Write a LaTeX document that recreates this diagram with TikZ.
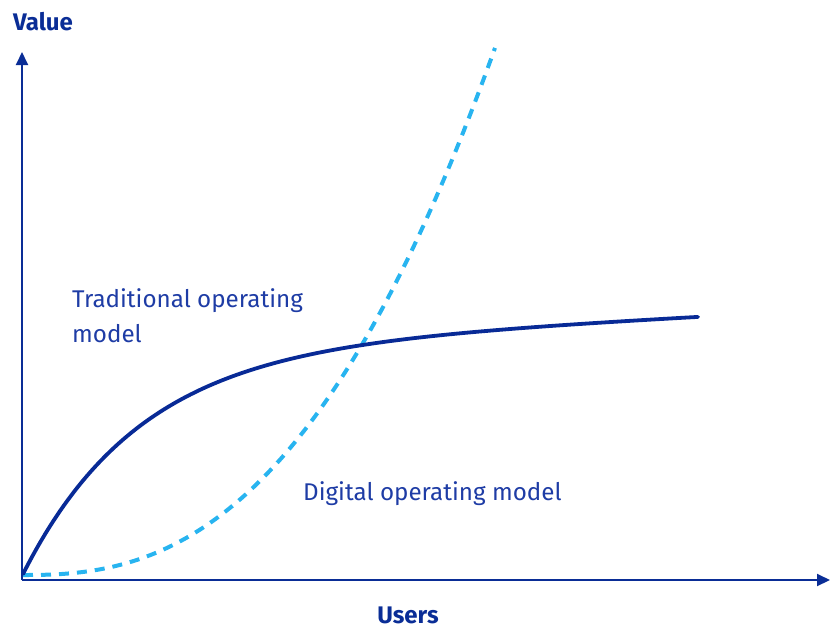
\documentclass[tikz,border=0pt]{standalone}
\usepackage{fontspec}
\setmainfont{Fira Sans}
\usetikzlibrary{arrows.meta}
\definecolor{axisblue}{RGB}{10,45,150}
\definecolor{tradblue}{RGB}{8,42,150}
\definecolor{digiblue}{RGB}{40,180,240}
\definecolor{labelblue}{RGB}{30,60,165}
\tikzset{
  axis/.style={draw=axisblue, line width=2pt, -{Triangle[length=13pt,width=12pt]}},
  axislabel/.style={text=axisblue, font=\fontsize{24}{28}\selectfont\bfseries, inner sep=0pt},
  curvelabel/.style={text=labelblue, font=\fontsize{24.2}{35}\selectfont, inner sep=0pt, align=left},
  tradcurve/.style={draw=tradblue, line width=3.8pt, line cap=round},
  digicurve/.style={draw=digiblue, line width=4pt, dash pattern=on 10pt off 8pt},
}
\begin{document}
\begin{tikzpicture}[x=1pt,y=-1pt]
\useasboundingbox (0,0) rectangle (830,630);
\coordinate (O) at (22,580);
\coordinate (Ytip) at (22,52);
\coordinate (Xtip) at (830,580);
\draw[axis] (O) -- (Ytip);
\draw[axis] (O) -- (Xtip);
\node[axislabel] (value) at (43,22) {Value};
\node[axislabel] (users) at (408,615) {Users};
\draw[digicurve] plot[domain=0:472, samples=120, variable=\t]
  ({23+\t}, {575-10.89*(\t/100)^2*sqrt(\t/100)});
\draw[tradcurve] plot[domain=0:675, samples=150, variable=\t]
  ({23+\t}, {574-224*(1-exp(-\t/116))-0.05*\t});
\node[curvelabel, anchor=north west] (trad) at (72,288) {Traditional operating\\model};
\node[curvelabel, anchor=west] (digi) at (303,494) {Digital operating model};
\end{tikzpicture}
\end{document}
